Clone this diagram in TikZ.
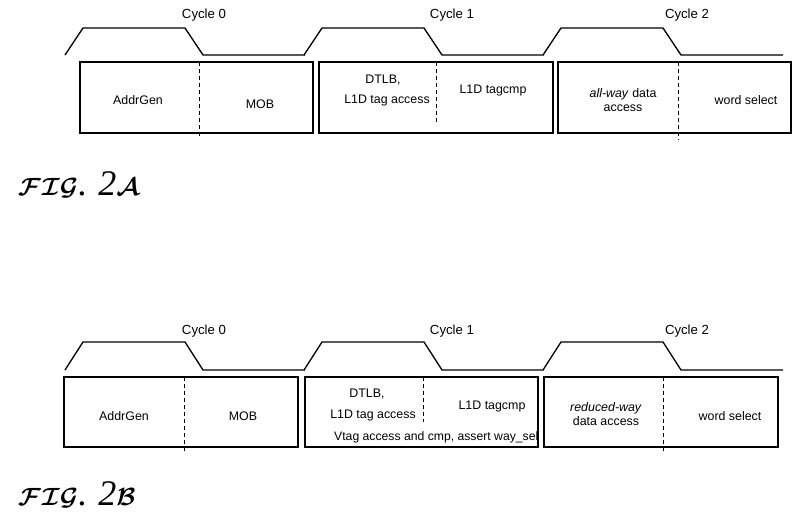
\documentclass[tikz,border=0pt]{standalone}
\usepackage{fontspec}
\setmainfont{Liberation Sans}
\newfontfamily\figfont{Liberation Serif}

\tikzset{
  clk/.style={line width=1.3pt, line join=miter},
  box/.style={line width=1.5pt},
  sep/.style={line width=1pt, dash pattern=on 4pt off 3pt},
  lbl/.style={font=\fontsize{12.4}{14}\selectfont, inner sep=0pt, align=center},
  cyc/.style={lbl, font=\fontsize{13.2}{14}\selectfont},
  figlbl/.style={anchor=base west, inner sep=0pt}
}
\newcommand{\figtag}[1]{{\boldmath\fontsize{36}{38}\selectfont$\mathcal{F}$\kern1pt}{\boldmath\fontsize{25}{26}\selectfont$\mathcal{I}\mathcal{G}$}{\boldmath\fontsize{36}{38}\selectfont\figfont\itshape.\kern11pt 2$\mathcal{#1}$}}

\begin{document}
\begin{tikzpicture}[x=1pt,y=-1pt]
\useasboundingbox (0,0) rectangle (800,524);

% FIG. 2A -- clock
\foreach \x in {65,304,543}
  \draw[clk] (\x,55) -- (\x+18,28) -- (\x+120,28) -- (\x+138,55) -- (\x+240,55);
\node[cyc] (cyc0a) at (204,15) {Cycle 0};
\node[cyc] (cyc1a) at (452,15) {Cycle 1};
\node[cyc] (cyc2a) at (687,15) {Cycle 2};
% stages
\draw[box] (80,62) rectangle (313,133);
\draw[box] (319,62) rectangle (553,133);
\draw[box] (558,62) rectangle (791,133);
\draw[sep] (199,62) -- (199,136);
\draw[sep] (436,62) -- (436,125);
\draw[sep] (678,62) -- (678,140);
\node[lbl] (agena) at (138,100) {AddrGen};
\node[lbl] (moba) at (260,104) {MOB};
\node[lbl] (dtlba) at (383,80) {DTLB,};
\node[lbl] (tagaa) at (387,101) {L1D tag access};
\node[lbl] (tcmpa) at (493,91) {L1D tagcmp};
\node[lbl] (dataa) at (623,100) {\textit{all-way} data\\access};
\node[lbl] (wsela) at (746,100) {word select};
\node[figlbl] (figa) at (18,195) {\figtag{A}};

% FIG. 2B -- clock
\foreach \x in {65,304,543}
  \draw[clk] (\x,370) -- (\x+18,342) -- (\x+120,342) -- (\x+138,370) -- (\x+240,370);
\node[cyc] (cyc0b) at (204,331) {Cycle 0};
\node[cyc] (cyc1b) at (452,331) {Cycle 1};
\node[cyc] (cyc2b) at (687,331) {Cycle 2};
% stages
\node[lbl, anchor=west, font=\fontsize{12.2}{14}\selectfont] (vtagb) at (334,437) {Vtag access and cmp, assert way\_sel};
\draw[box] (64,377) rectangle (298,447);
\draw[box] (305,377) rectangle (538,447);
\draw[box] (544,377) rectangle (778,447);
\draw[sep] (184,377) -- (184,452);
\draw[sep] (423,377) -- (423,422);
\draw[sep] (663,377) -- (663,452);
\node[lbl] (agenb) at (124,416) {AddrGen};
\node[lbl] (mobb) at (243,416) {MOB};
\node[lbl] (dtlbb) at (367,394) {DTLB,};
\node[lbl] (tagab) at (373,416) {L1D tag access};
\node[lbl] (tcmpb) at (492,407) {L1D tagcmp};
\node[lbl] (datab) at (606,414) {\textit{reduced-way}\\data access};
\node[lbl] (wselb) at (730,416) {word select};
\node[figlbl] (figb) at (18,505) {\figtag{B}};
\end{tikzpicture}
\end{document}
